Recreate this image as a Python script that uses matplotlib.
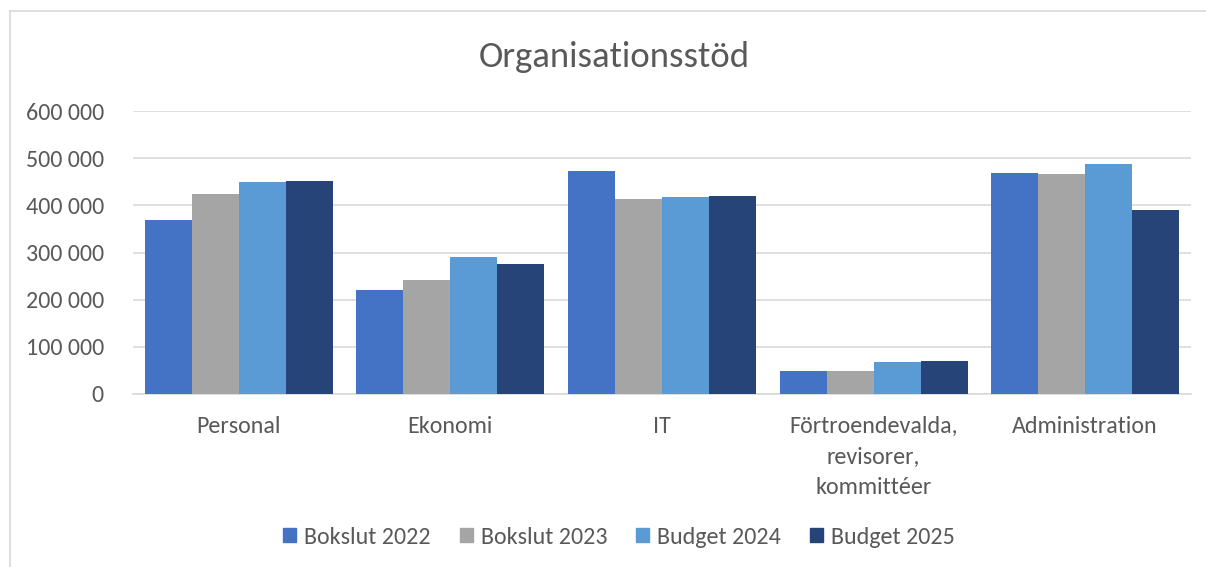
import numpy as np
import matplotlib.pyplot as plt
from matplotlib.lines import Line2D

# data
kategorier = ['Personal', 'Ekonomi', 'IT', 'Förtroendevalda,\nrevisorer,\nkommittéer', 'Administration']
serier = ['Bokslut 2022', 'Bokslut 2023', 'Budget 2024', 'Budget 2025']
bokslut_2022 = [369000, 220000, 472500, 49500, 469500]
bokslut_2023 = [423000, 242500, 414000, 48000, 467000]
budget_2024 = [450000, 289500, 417500, 68000, 488500]
budget_2025 = [452000, 275500, 419500, 70500, 390500]
yticks = [0, 100000, 200000, 300000, 400000, 500000, 600000]
ytick_labels = ['0', '100 000', '200 000', '300 000', '400 000', '500 000', '600 000']

farger = ['#4472C4', '#A5A5A5', '#5B9BD5', '#264478']
textfarg = '#595959'

W, H = 1206, 567
fig = plt.figure(figsize=(W / 100, H / 100), dpi=100)
plt.rcParams['font.family'] = ['Carlito', 'Liberation Sans', 'DejaVu Sans']
fs = 17.3

# chart area border (top and left visible)
fig.add_artist(Line2D([10 / W, 10 / W], [0, 1 - 11 / H], transform=fig.transFigure, color='#D9D9D9', lw=1.2))
fig.add_artist(Line2D([10 / W, 1], [1 - 11 / H, 1 - 11 / H], transform=fig.transFigure, color='#D9D9D9', lw=1.2))

ax = fig.add_axes([133 / W, 1 - 394 / H, (1191 - 133) / W, (394 - 111) / H])

x = np.arange(len(kategorier))
bredd = 0.222
alla = [bokslut_2022, bokslut_2023, budget_2024, budget_2025]
for i, (namn, varden) in enumerate(zip(serier, alla)):
    ax.bar(x + (i - 1.5) * bredd, varden, bredd, color=farger[i], label=namn, zorder=3)

ax.set_xlim(-0.5, len(kategorier) - 0.5)
ax.set_ylim(0, 600000)
ax.set_yticks(yticks)
ax.set_yticklabels(ytick_labels)
ax.set_xticks(x)
ax.set_xticklabels(kategorier, linespacing=1.55)
ax.grid(axis='y', color='#D9D9D9', lw=1.2, zorder=0)
for s in ['top', 'right', 'left']:
    ax.spines[s].set_visible(False)
ax.spines['bottom'].set_color('#D9D9D9')
ax.spines['bottom'].set_linewidth(1.2)
ax.tick_params(axis='both', length=0, labelsize=fs, colors=textfarg)
ax.tick_params(axis='y', pad=21)
ax.tick_params(axis='x', pad=16)

fig.text(614 / W, 1 - 57 / H, 'Organisationsstöd', ha='center', va='center', fontsize=26.5, color=textfarg)

handles = [plt.Rectangle((0, 0), 1, 1, color=c) for c in farger]
fig.legend(handles, serier, loc='center', bbox_to_anchor=(619 / W, 1 - 537 / H), ncol=4, frameon=False,
           fontsize=fs, labelcolor=textfarg, handlelength=0.55, handleheight=0.55, handletextpad=0.33,
           columnspacing=1.2)

fig.savefig('out.png', dpi=100)
